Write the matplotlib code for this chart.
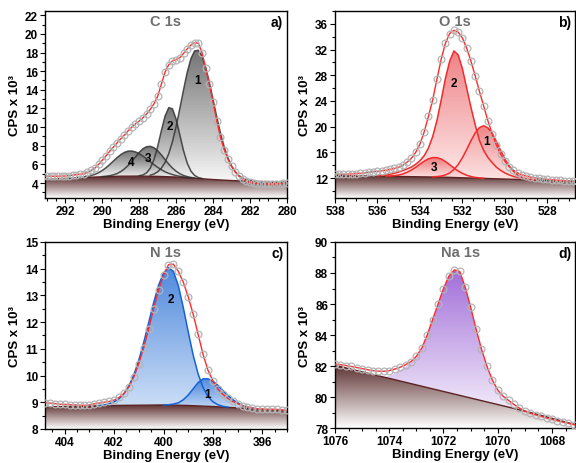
import numpy as np
import matplotlib
matplotlib.use('Agg')
import matplotlib.pyplot as plt
from matplotlib.colors import LinearSegmentedColormap
from matplotlib.patches import Polygon
from matplotlib.ticker import MultipleLocator

plt.rcParams['font.family'] = ['Liberation Sans', 'DejaVu Sans']
plt.rcParams['font.weight'] = 'bold'
plt.rcParams['axes.labelweight'] = 'bold'


def grid(start, n):
    # energy axis, 0.2 eV step, high -> low binding energy
    return np.round(start - 0.2 * np.arange(n), 1)


# ---------------- C 1s ----------------
cps_a = [4.75, 4.75, 4.74, 4.73, 4.74, 4.75, 4.76, 4.8, 4.85, 4.9,
         4.95, 5.0, 5.15, 5.35, 5.6, 6.0, 6.45, 6.9, 7.4, 7.85,
         8.3, 8.75, 9.15, 9.6, 10.0, 10.35, 10.65, 11.0, 11.4, 11.9,
         12.5, 13.3, 14.6, 15.9, 16.7, 17.1, 17.25, 17.45, 17.9, 18.4,
         18.8, 19.05, 19.0, 18.0, 16.3, 14.6, 12.7, 10.7, 8.9, 7.6,
         6.6, 5.8, 5.2, 4.75, 4.45, 4.25, 4.1, 4.0, 3.95, 3.92,
         3.9, 3.9, 3.9, 3.92, 3.95, 4.0, 4.05, 4.05]
be_a = grid(293.2, len(cps_a))
bg_be_a = [293.2, 292, 291, 290, 289, 288, 287, 286, 285, 284, 283, 282, 281, 279.8]
bg_a = [4.4, 4.5, 4.6, 4.68, 4.74, 4.75, 4.72, 4.65, 4.52, 4.38, 4.27, 4.2, 4.15, 4.1]
c1_a = [0.12, 0.25, 0.49, 0.89, 1.53, 2.47, 3.78, 5.43, 7.36, 9.39, 11.29, 12.79, 13.65,
        13.75, 13.15, 11.97, 10.37, 8.56, 6.72, 5.02, 3.57, 2.42, 1.56, 0.96, 0.56, 0.31,
        0.16, 0.08, 0.04]
c2_a = [0.04, 0.13, 0.36, 0.87, 1.79, 3.19, 4.90, 6.49, 7.41, 7.30, 6.21, 4.55, 2.88,
        1.57, 0.74, 0.30, 0.10, 0.03]
c3_a = [0.02, 0.04, 0.09, 0.17, 0.29, 0.49, 0.78, 1.15, 1.59, 2.07, 2.54, 2.93, 3.16,
        3.21, 3.07, 2.75, 2.32, 1.83, 1.36, 0.95, 0.62, 0.38, 0.22, 0.12, 0.06, 0.03]
c4_a = [0.01, 0.02, 0.03, 0.06, 0.10, 0.18, 0.29, 0.45, 0.67, 0.95, 1.28, 1.64, 2.0,
        2.31, 2.55, 2.68, 2.69, 2.59, 2.41, 2.16, 1.87, 1.56, 1.25, 0.97, 0.73, 0.52,
        0.37, 0.25, 0.16, 0.10, 0.06, 0.03, 0.02]
comps_a = [(287.4, c1_a), (288.0, c2_a), (290.0, c3_a), (291.6, c4_a)]
lab_a = [('1', 284.86, 15.1), ('2', 286.32, 10.1), ('3', 287.5, 6.7), ('4', 288.43, 6.3)]

# ---------------- O 1s ----------------
cps_b = [12.62, 12.62, 12.6, 12.6, 12.62, 12.65, 12.7, 12.75, 12.8, 12.9,
         13.0, 13.05, 13.15, 13.2, 13.35, 13.5, 13.7, 14.0, 14.5, 15.1,
         16.0, 17.3, 19.2, 21.6, 24.2, 27.4, 30.5, 33.0, 34.5, 35.0,
         34.7, 33.8, 32.2, 30.2, 27.9, 25.5, 23.2, 20.9, 18.9, 17.1,
         15.7, 14.6, 13.8, 13.2, 12.8, 12.5, 12.3, 12.15, 12.05, 11.95,
         11.85, 11.8, 11.75, 11.7, 11.65, 11.6, 11.55, 11.5, 11.5]
be_b = grid(538.2, len(cps_b))
bg_be_b = [538.2, 536, 535, 534, 533, 532, 531, 530, 529, 528, 526.6]
bg_b = [12.4, 12.3, 12.25, 12.2, 12.15, 12.05, 11.95, 11.85, 11.75, 11.65, 11.5]
c1_b = [0.03, 0.08, 0.17, 0.36, 0.69, 1.24, 2.04, 3.12, 4.42, 5.8, 7.03, 7.89, 8.2,
        7.89, 7.03, 5.8, 4.42, 3.12, 2.04, 1.24, 0.69, 0.36, 0.17, 0.08, 0.03]
c2_b = [0.05, 0.12, 0.2, 0.33, 0.5, 0.7, 0.95, 1.2, 1.5, 1.95,
        2.5, 3.3, 4.5, 6.3, 8.8, 12.0, 15.4, 18.1, 19.7, 19.1,
        16.95, 13.97, 11.0, 8.3, 5.9, 4.35, 3.27, 2.5, 1.8, 1.33,
        0.95, 0.67, 0.45, 0.3, 0.2, 0.12, 0.07, 0.03]
c3_b = [0.03, 0.06, 0.12, 0.23, 0.41, 0.68, 1.04, 1.48, 1.97, 2.44, 2.82, 3.02,
        3.02, 2.82, 2.44, 1.97, 1.48, 1.04, 0.68, 0.41, 0.23, 0.12, 0.06, 0.03]
comps_b = [(533.4, c1_b), (536.0, c2_b), (535.6, c3_b)]
lab_b = [('1', 530.88, 17.75), ('2', 532.41, 26.8), ('3', 533.33, 13.8)]

# ---------------- N 1s ----------------
cps_c = [8.98, 8.99, 8.97, 8.95, 8.93, 8.92, 8.91, 8.9, 8.89, 8.88,
         8.9, 8.94, 8.97, 9.0, 9.03, 9.08, 9.18, 9.33, 9.58, 9.95,
         10.45, 11.05, 11.75, 12.5, 13.2, 13.75, 14.15, 14.17, 13.9, 13.5,
         12.95, 12.3, 11.55, 10.8, 10.2, 9.8, 9.5, 9.3, 9.15, 9.03,
         8.95, 8.87, 8.82, 8.78, 8.76, 8.75, 8.74, 8.74, 8.73, 8.72, 8.7]
be_c = grid(405.0, len(cps_c))
bg_be_c = [405.0, 402, 400, 399, 398, 397, 396, 395.0]
bg_c = [8.82, 8.88, 8.9, 8.88, 8.84, 8.79, 8.73, 8.68]
c2_c = [0.015, 0.03, 0.07, 0.14, 0.25, 0.44, 0.73, 1.14, 1.69, 2.35, 3.09, 3.83, 4.48,
        4.94, 5.14, 5.01, 4.48, 3.67, 2.76, 1.90, 1.2, 0.70, 0.37, 0.18, 0.08, 0.03, 0.01]
c1_c = [0.0, 0.01, 0.04, 0.09, 0.21, 0.39, 0.63, 0.87, 1.02, 1.03, 0.95, 0.81, 0.63,
        0.45, 0.30, 0.19, 0.10, 0.05, 0.03, 0.01]
comps_c = [(402.6, c2_c), (400.0, c1_c)]
lab_c = [('1', 398.2, 9.31), ('2', 399.69, 12.86)]

# ---------------- Na 1s ----------------
cps_d = [82.15, 82.12, 82.08, 82.03, 81.97, 81.9, 81.83, 81.76, 81.7, 81.67,
         81.66, 81.7, 81.8, 81.92, 82.08, 82.28, 82.63, 83.15, 84.0, 85.0,
         86.0, 87.0, 87.8, 88.2, 88.1, 87.1, 85.8, 84.4, 83.1, 82.0,
         81.1, 80.45, 80.05, 79.78, 79.52, 79.28, 79.1, 78.95, 78.85, 78.75,
         78.65, 78.55, 78.47, 78.38, 78.3, 78.22, 78.15]
be_d = grid(1076.2, len(cps_d))
bg_be_d = [1076.2, 1068.9, 1067.0]
bg_d = [82.13, 79.05, 78.15]
c1_d = [0.0, 0.15, 0.4, 0.7, 1.0, 1.35, 1.82, 2.45, 3.39, 4.47, 5.56, 6.64, 7.53, 8.01,
        8.0, 7.08, 5.86, 4.55, 3.33, 2.32, 1.5, 0.94, 0.62, 0.44, 0.26, 0.11, 0.01, 0.0]
comps_d = [(1074.2, c1_d)]


def base_at(x, bg_be, bg):
    return np.interp(x, bg_be[::-1], bg[::-1])


def grad_fill(ax, x, ytop, ybot, c_top, c_bot, alpha=1.0, z=2, lo=None, hi=None):
    x = np.asarray(x, float)
    ytop = np.asarray(ytop, float)
    ybot = np.asarray(ybot, float)
    verts = np.column_stack([np.r_[x, x[::-1]], np.r_[ytop, ybot[::-1]]])
    patch = Polygon(verts, closed=True, fc='none', ec='none')
    ax.add_patch(patch)
    lo = ybot.min() if lo is None else lo
    hi = ytop.max() if hi is None else hi
    cmap = LinearSegmentedColormap.from_list('g', [c_bot, c_top])
    im = ax.imshow(np.linspace(0, 1, 256).reshape(-1, 1), cmap=cmap, aspect='auto',
                   origin='lower', extent=[x.min(), x.max(), lo, hi], alpha=alpha,
                   zorder=z, interpolation='bilinear')
    im.set_clip_path(patch)


def panel(ax, be, cps, bg_be, bg, comps, style, xlim, ylim, ymaj, ymin_, title, letter,
          labels=(), title_x=0.5):
    bg_be = np.asarray(bg_be, float)
    bg = np.asarray(bg, float)
    # background (Shirley) region
    grad_fill(ax, bg_be, bg, np.full(len(bg), ylim[0]), '#5a2c2c', '#ffffff', z=1,
              lo=ylim[0], hi=bg.max())
    ax.plot(bg_be, bg, color='#5c2222', lw=1.0, zorder=3)
    # fitted components
    for start, h in comps:
        x = grid(start, len(h))
        base = base_at(x, bg_be, bg)
        top = base + np.asarray(h)
        grad_fill(ax, x, top, base, style['top'], style['bot'], alpha=style['alpha'], z=2)
        if style['edge'] is not None:
            ax.plot(x, top, color=style['edge'], lw=1.1, alpha=style['ealpha'], zorder=3)
    # measured data + envelope
    ax.plot(be, cps, color='#ff2a2a', lw=1.0, zorder=4)
    ax.plot(be, cps, 'o', ms=4.9, mfc='none', mec='#b4b4b4', mew=0.9, zorder=5)
    for t, x, y in labels:
        ax.text(x, y, t, ha='center', va='center', fontsize=8.5, fontweight='bold', zorder=6)

    ax.set_xlim(*xlim)
    ax.set_ylim(*ylim)
    ax.xaxis.set_major_locator(MultipleLocator(2))
    ax.xaxis.set_minor_locator(MultipleLocator(0.5))
    ax.yaxis.set_major_locator(MultipleLocator(ymaj))
    ax.yaxis.set_minor_locator(MultipleLocator(ymin_))
    ax.tick_params(which='both', direction='out', width=0.8, labelsize=8.5, pad=1.5)
    ax.tick_params(which='major', length=3.5)
    ax.tick_params(which='minor', length=2)
    for s in ax.spines.values():
        s.set_linewidth(1.0)
    ax.set_xlabel('Binding Energy (eV)', fontsize=9.5, labelpad=1)
    ax.set_ylabel('CPS x 10³', fontsize=9.5, labelpad=3)
    ax.text(title_x, 0.945, title, transform=ax.transAxes, ha='center', va='center',
            fontsize=10.5, fontweight='bold', color='#6e6e6e', zorder=7)
    ax.text(0.985, 0.94, letter, transform=ax.transAxes, ha='right', va='center',
            fontsize=10, fontweight='bold', zorder=7)


gray = {'top': '#444444', 'bot': '#f4f4f4', 'alpha': 0.75, 'edge': '#333333', 'ealpha': 0.85}
red = {'top': '#e9585c', 'bot': '#fde3e3', 'alpha': 0.75, 'edge': '#ee2c2c', 'ealpha': 1.0}
blue = {'top': '#2f74d8', 'bot': '#c4d9f5', 'alpha': 0.85, 'edge': '#1463d6', 'ealpha': 1.0}
purple = {'top': '#a16ed9', 'bot': '#f3ecfa', 'alpha': 1.0, 'edge': None, 'ealpha': 1.0}

fig = plt.figure(figsize=(5.76, 4.64), dpi=100)
ax_a = fig.add_axes([0.0781, 0.5711, 0.4201, 0.4030])
ax_b = fig.add_axes([0.5816, 0.5711, 0.4167, 0.4030])
ax_c = fig.add_axes([0.0781, 0.0733, 0.4201, 0.4030])
ax_d = fig.add_axes([0.5816, 0.0754, 0.4167, 0.4009])

panel(ax_a, be_a, cps_a, bg_be_a, bg_a, comps_a, gray, (293.1, 280), (2.4, 22.45), 2, 1,
      'C 1s', 'a)', lab_a)
panel(ax_b, be_b, cps_b, bg_be_b, bg_b, comps_b, red, (538, 526.7), (8.9, 38.0), 4, 2,
      'O 1s', 'b)', lab_b)
panel(ax_c, be_c, cps_c, bg_be_c, bg_c, comps_c, blue, (404.8, 395.0), (8, 15), 1, 0.5,
      'N 1s', 'c)', lab_c)
panel(ax_d, be_d, cps_d, bg_be_d, bg_d, comps_d, purple, (1076, 1067.15), (78, 90), 2, 1,
      'Na 1s', 'd)', title_x=0.525)

fig.savefig('out.png', dpi=100)
